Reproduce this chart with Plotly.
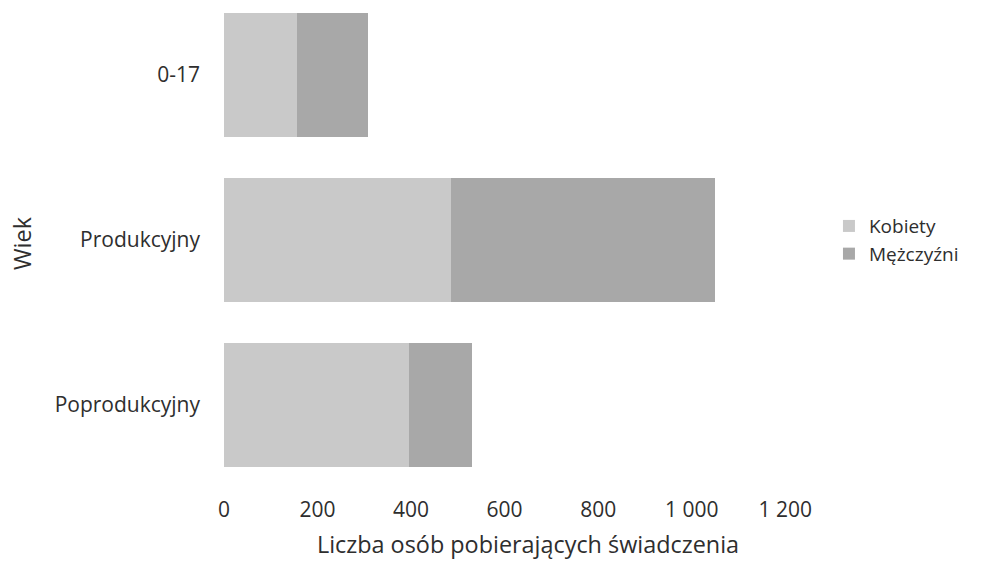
import plotly.graph_objects as go

categories = ["0-17", "Produkcyjny", "Poprodukcyjny"]
kobiety = [156, 486, 396]
mezczyzni = [152, 564, 134]
series_names = ["Kobiety", "Mężczyźni"]
tick_vals = [0, 200, 400, 600, 800, 1000, 1200]
tick_text = ["0", "200", "400", "600", "800", "1 000", "1 200"]

FONT = "Open Sans, Noto Sans, DejaVu Sans, sans-serif"
TXT = "#2e2e2e"

fig = go.Figure()
fig.add_trace(go.Bar(y=categories, x=kobiety, name=series_names[0], orientation="h",
                     marker=dict(color="#c9c9c9", line=dict(width=0))))
fig.add_trace(go.Bar(y=categories, x=mezczyzni, name=series_names[1], orientation="h",
                     marker=dict(color="#a8a8a8", line=dict(width=0))))

fig.update_layout(
    width=981, height=566,
    barmode="stack", bargap=0.25,
    paper_bgcolor="white", plot_bgcolor="white",
    margin=dict(l=224, r=149, t=0, b=79, autoexpand=False),
    font=dict(family=FONT, size=21, color=TXT),
    legend=dict(x=0.995, xanchor="left", y=0.507, yanchor="middle",
                font=dict(size=19, color=TXT), traceorder="normal",
                itemwidth=30, tracegroupgap=0, bgcolor="rgba(0,0,0,0)"),
    xaxis=dict(range=[0, 1300], tickvals=tick_vals, ticktext=tick_text,
               showgrid=False, zeroline=False, showline=False, ticks="",
               automargin=False, ticklabelstandoff=8,
               tickfont=dict(size=21, color=TXT),
               title=dict(text="Liczba osób pobierających świadczenia", standoff=14,
                          font=dict(size=23.4, color=TXT))),
    yaxis=dict(categoryorder="array", categoryarray=categories,
               range=[2.497, -0.4545], showgrid=False, zeroline=False, showline=False,
               ticks="", ticklabelstandoff=23, automargin=False,
               tickfont=dict(size=21, color=TXT),
               title=dict(text="Wiek", standoff=16, font=dict(size=23.4, color=TXT))),
)

fig.write_html("out.html", config={"displayModeBar": False},
               post_script="document.body.style.margin='0';document.body.style.padding='0';")
